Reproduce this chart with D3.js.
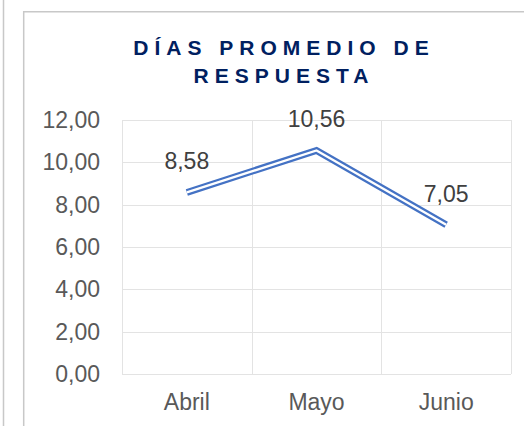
<html>
<head>
<meta charset="utf-8">
<script src="https://d3js.org/d3.v7.min.js"></script>
<style>
  body { margin: 0; background: #fff; }
  text { font-family: "Liberation Sans", Arial, sans-serif; }
</style>
</head>
<body>
<svg id="chart" width="524" height="426"></svg>
<script>
// data
var months = ["Abril", "Mayo", "Junio"];
var dias = [8.58, 10.56, 7.05];
var yTicks = [0, 2, 4, 6, 8, 10, 12];
var titleLines = ["DÍAS PROMEDIO DE", "RESPUESTA"];

var svg = d3.select("#chart");
var plotLeft = 122, plotRight = 511, plotTop = 120, plotBottom = 374;

// card borders
svg.append("line").attr("x1", 3.5).attr("x2", 3.5).attr("y1", 0).attr("y2", 426)
    .attr("stroke", "#c8c8c8").attr("stroke-width", 1.5);
svg.append("path").attr("d", "M23.7,426 V11.7 H524")
    .attr("fill", "none").attr("stroke", "#c8c8c8").attr("stroke-width", 1.5);

// title
var ls = 6;
svg.append("g").selectAll("text")
    .data(titleLines)
    .enter()
    .append("text")
        .attr("x", 281 + ls / 2)
        .attr("y", function(d, i) { return 55 + i * 28; })
        .attr("text-anchor", "middle")
        .attr("font-size", "21px")
        .attr("font-weight", "bold")
        .attr("letter-spacing", ls + "px")
        .attr("fill", "#002060")
        .text(function(d) { return d; });

var x = d3.scaleBand().domain(months).range([plotLeft, plotRight]);
var y = d3.scaleLinear().domain([0, 12]).range([plotBottom, plotTop]);
var fmt = function(v) { return d3.format(".2f")(v).replace(".", ","); };

// gridlines
var grid = svg.append("g").attr("stroke", "#e3e3e3").attr("stroke-width", 1);
grid.selectAll(".h").data(yTicks).enter().append("line")
    .attr("x1", plotLeft).attr("x2", plotRight)
    .attr("y1", function(d) { return Math.round(y(d)) + 0.5; })
    .attr("y2", function(d) { return Math.round(y(d)) + 0.5; });
var vb = months.map(function(m) { return x(m); }).concat([plotRight]);
grid.selectAll(".v").data(vb).enter().append("line")
    .attr("y1", plotTop).attr("y2", plotBottom)
    .attr("x1", function(d) { return Math.round(d) + 0.5; })
    .attr("x2", function(d) { return Math.round(d) + 0.5; });

// y axis
var yAxis = d3.axisLeft(y).tickValues(yTicks).tickFormat(fmt).tickSize(0).tickPadding(0);
var ya = svg.append("g").attr("transform", "translate(100,0)").call(yAxis);
ya.select(".domain").remove();
ya.selectAll("text").attr("font-size", "23px").attr("fill", "#595959")
    .attr("font-family", "Liberation Sans, Arial, sans-serif");

// x axis
var xAxis = d3.axisBottom(x).tickSize(0).tickPadding(0);
var xa = svg.append("g").attr("transform", "translate(0,394)").call(xAxis);
xa.select(".domain").remove();
xa.selectAll("text").attr("font-size", "23px").attr("fill", "#595959")
    .attr("font-family", "Liberation Sans, Arial, sans-serif");

// double line
var line = d3.line()
    .x(function(d, i) { return x(months[i]) + x.bandwidth() / 2; })
    .y(function(d) { return y(d); });
svg.append("path").datum(dias).attr("d", line)
    .attr("fill", "none").attr("stroke", "#4472c4").attr("stroke-width", 6.8);
svg.append("path").datum(dias).attr("d", line)
    .attr("fill", "none").attr("stroke", "#ffffff").attr("stroke-width", 2.4);

// data labels
svg.append("g").selectAll("text")
    .data(dias)
    .enter()
    .append("text")
        .attr("x", function(d, i) { return x(months[i]) + x.bandwidth() / 2; })
        .attr("y", function(d) { return y(d) - 23; })
        .attr("text-anchor", "middle")
        .attr("font-size", "23px")
        .attr("fill", "#404040")
        .text(fmt);
</script>
</body>
</html>
